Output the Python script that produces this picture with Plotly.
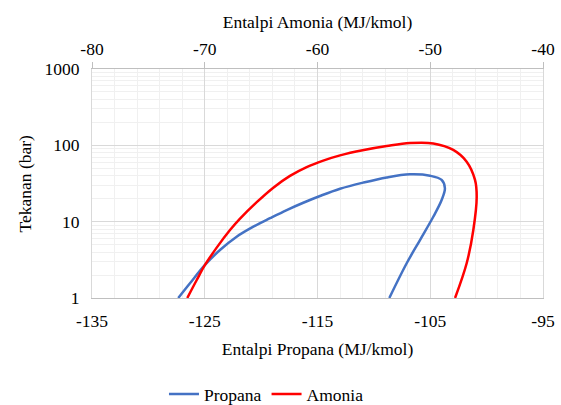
import plotly.graph_objects as go

# Propana (bottom axis, MJ/kmol) vs pressure (bar)
propana_h = [-127.35, -126.31, -124.98, -123.65, -122.17, -120.69, -119.21, -117.73, -116.26, -114.78,
             -113.0, -110.94, -108.86, -106.8, -105.02, -103.99, -103.7, -103.99, -104.73, -105.91, -107.09, -108.63]
propana_p = [1.0, 1.56, 2.71, 4.25, 6.35, 8.59, 11.1, 14.2, 17.7, 21.7,
             27.0, 32.5, 38.0, 41.7, 40.0, 35.2, 27.4, 19.2, 11.6, 5.75, 2.85, 1.0]

# Amonia (top axis, MJ/kmol) vs pressure (bar)
amonia_h = [-71.55, -70.71, -69.98, -68.94, -67.76, -66.87, -65.39, -63.92, -62.44, -60.96,
            -59.49, -58.0, -56.0, -53.86, -51.8, -49.73, -47.96, -46.77, -46.03, -45.88, -46.18, -46.77, -47.8]
amonia_p = [1.0, 1.72, 2.71, 4.57, 7.76, 10.96, 18.0, 27.9, 39.8, 51.9,
            63.1, 73.8, 86.1, 97.7, 107.2, 106.0, 87.0, 61.0, 35.2, 21.2, 7.78, 2.85, 1.0]

# Tick labels
propana_ticks = [-135, -125, -115, -105, -95]
propana_ticktext = ["-135", "-125", "-115", "-105", "-95"]
amonia_ticks = [-80, -70, -60, -50, -40]
amonia_ticktext = ["-80", "-70", "-60", "-50", "-40"]
p_ticks = [1, 10, 100, 1000]
p_ticktext = ["1", "10", "100", "1000"]

font_family = "Liberation Serif, 'Times New Roman', Times, serif"
fs = 17.5
grid_major = "#d9d9d9"
grid_minor = "#f0f0f0"

fig = go.Figure()
fig.add_trace(go.Scatter(x=propana_h, y=propana_p, mode="lines", name="Propana",
                         line=dict(color="#4472C4", width=2.5, shape="spline", smoothing=1.0),
                         xaxis="x", yaxis="y"))
fig.add_trace(go.Scatter(x=amonia_h, y=amonia_p, mode="lines", name="Amonia",
                         line=dict(color="#FF0000", width=2.5, shape="spline", smoothing=1.0),
                         xaxis="x2", yaxis="y"))

fig.update_layout(
    width=561, height=405,
    margin=dict(l=92, r=18, t=69, b=107, autoexpand=False),
    paper_bgcolor="white", plot_bgcolor="white",
    font=dict(family=font_family, size=fs, color="black"),
    showlegend=True,
    legend=dict(orientation="h", xref="container", x=0.475, xanchor="center",
                y=-0.42, yanchor="middle", font=dict(size=fs), itemwidth=30),
    xaxis=dict(
        range=[-135, -95], tickvals=propana_ticks, ticktext=propana_ticktext,
        showgrid=True, gridcolor=grid_major, gridwidth=1,
        minor=dict(dtick=2, tick0=-135, showgrid=True, gridcolor=grid_minor, gridwidth=1),
        showline=True, linecolor="#bfbfbf", linewidth=1,
        ticks="outside", ticklen=7, tickcolor="rgba(0,0,0,0)",
        zeroline=False, automargin=False,
        title=dict(text="Entalpi Propana (MJ/kmol)", font=dict(size=fs), standoff=12),
        tickfont=dict(size=fs),
    ),
    xaxis2=dict(
        range=[-80, -40], tickvals=amonia_ticks, ticktext=amonia_ticktext,
        overlaying="x", side="top",
        showgrid=False, showline=True, linecolor="#bfbfbf", linewidth=1,
        ticks="outside", ticklen=6, tickcolor="#bfbfbf",
        zeroline=False, automargin=False,
        title=dict(text="Entalpi Amonia (MJ/kmol)", font=dict(size=fs), standoff=5),
        tickfont=dict(size=fs),
    ),
    yaxis=dict(
        type="log", range=[0, 3],
        tickvals=p_ticks, ticktext=p_ticktext,
        showgrid=True, gridcolor=grid_major, gridwidth=1,
        minor=dict(showgrid=True, gridcolor=grid_minor, gridwidth=1,
                   tickvals=[m * d for d in [1, 10, 100] for m in range(2, 10)]),
        showline=True, linecolor=grid_major, mirror=True,
        ticks="outside", ticklen=8, tickcolor="rgba(0,0,0,0)",
        zeroline=False, automargin=False,
        tickfont=dict(size=fs),
    ),
    annotations=[dict(text="Tekanan (bar)", textangle=-90, xref="paper", yref="paper",
                      x=-0.1486, y=0.5, xanchor="center", yanchor="middle",
                      showarrow=False, font=dict(size=fs))],
)

fig.write_html("out.html")
